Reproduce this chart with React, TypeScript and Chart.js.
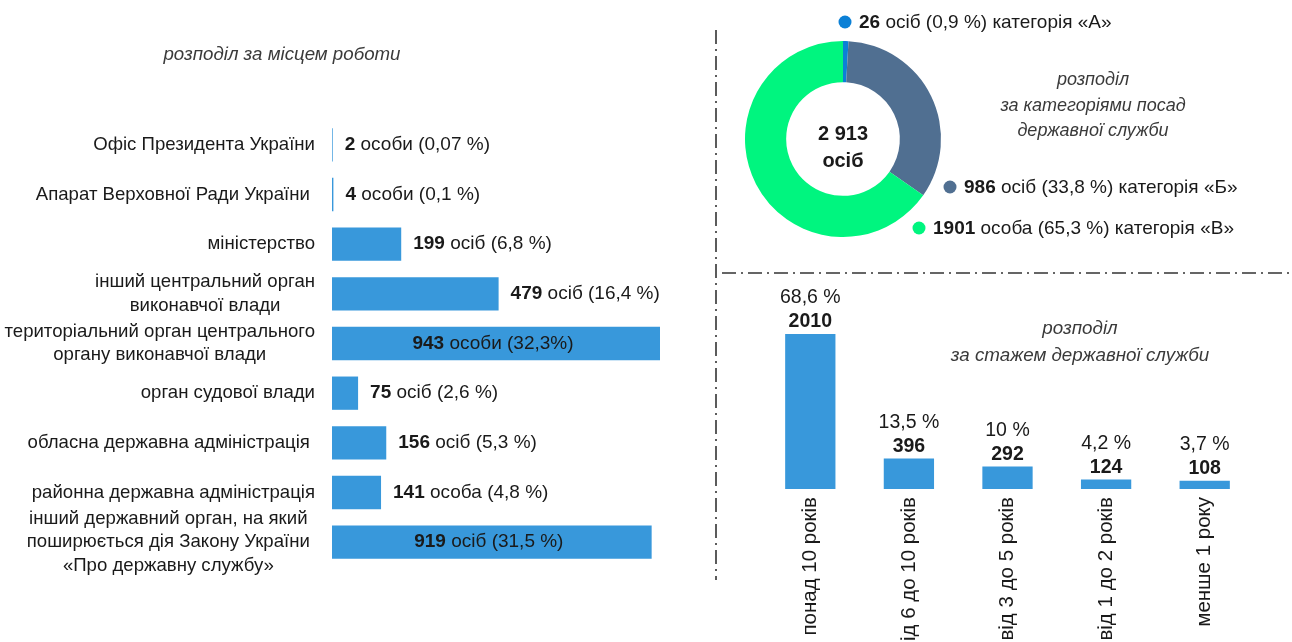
import React, { useEffect, useRef } from "react";
import { Chart, registerables } from "chart.js";

Chart.register(...registerables);

const FONT = "'Liberation Sans', Arial, sans-serif";
const TEXT = "#1a1a1a";
const BAR_BLUE = "#3898db";

// ---- left: distribution by place of work ----
const workplaceLabels: (string | string[])[] = [
  "Офіс Президента України",
  "Апарат Верховної Ради України ",
  "міністерство",
  ["інший центральний орган", "виконавчої влади"],
  ["територіальний орган центрального", "органу виконавчої влади"],
  "орган судової влади",
  "обласна державна адміністрація ",
  "районна державна адміністрація",
  ["інший державний орган, на який ", "поширюється дія Закону України ", "«Про державну службу» "],
];
const workplaceCounts = [2, 4, 199, 479, 943, 75, 156, 141, 919];
const workplaceUnits = ["особи", "особи", "осіб", "осіб", "особи", "осіб", "осіб", "особа", "осіб"];
const workplacePcts = ["0,07 %", "0,1 %", "6,8 %", "16,4 %", "32,3%", "2,6 %", "5,3 %", "4,8 %", "31,5 %"];

// ---- top right: distribution by position category ----
const categoryLabels = ["категорія «А»", "категорія «Б»", "категорія «В»"];
const categoryCounts = [26, 986, 1901];
const categoryUnits = ["осіб", "осіб", "особа"];
const categoryPcts = ["0,9 %", "33,8 %", "65,3 %"];
const categoryColors = ["#0b80d6", "#506f91", "#00f57f"];
const totalLabel = ["2 913", "осіб"];

// ---- bottom right: distribution by length of service ----
const tenureLabels = ["понад 10 років", "від 6 до 10 років", "від 3 до 5 років", "від 1 до 2 років", "менше 1 року"];
const tenureCounts = [2010, 396, 292, 124, 108];
const tenurePcts = ["68,6 %", "13,5 %", "10 %", "4,2 %", "3,7 %"];

function drawBoldThenNormal(ctx: CanvasRenderingContext2D, bold: string, rest: string, x: number, y: number, size: number, align: "left" | "center") {
  ctx.font = `bold ${size}px ${FONT}`;
  const bw = ctx.measureText(bold).width;
  ctx.font = `${size}px ${FONT}`;
  const rw = ctx.measureText(rest).width;
  const x0 = align === "center" ? x - (bw + rw) / 2 : x;
  ctx.textAlign = "left";
  ctx.textBaseline = "middle";
  ctx.font = `bold ${size}px ${FONT}`;
  ctx.fillText(bold, x0, y);
  ctx.font = `${size}px ${FONT}`;
  ctx.fillText(rest, x0 + bw, y);
}

function WorkplaceChart() {
  const ref = useRef<HTMLCanvasElement>(null);
  useEffect(() => {
    const maxVal = Math.max(...workplaceCounts);
    const plugin = {
      id: "workplaceLabels",
      afterDraw(chart: any) {
        const ctx: CanvasRenderingContext2D = chart.ctx;
        const yScale = chart.scales.y;
        const meta = chart.getDatasetMeta(0);
        ctx.save();
        ctx.fillStyle = TEXT;
        ctx.textBaseline = "middle";
        const right = chart.chartArea.left - 17;
        const lh = 23.5;
        workplaceLabels.forEach((lab, i) => {
          const lines = Array.isArray(lab) ? lab : [lab];
          ctx.font = `18.6px ${FONT}`;
          const maxW = Math.max(...lines.map((l) => ctx.measureText(l).width));
          const cx = right - maxW / 2;
          const y = yScale.getPixelForTick(i);
          ctx.textAlign = "center";
          lines.forEach((l, j) => ctx.fillText(l, cx, y + (j - (lines.length - 1) / 2) * lh));
        });
        meta.data.forEach((bar: any, i: number) => {
          const bold = String(workplaceCounts[i]);
          const rest = ` ${workplaceUnits[i]} (${workplacePcts[i]})`;
          if (workplaceCounts[i] > maxVal * 0.6) {
            drawBoldThenNormal(ctx, bold, rest, (bar.base + bar.x) / 2 - 3, bar.y, 19, "center");
          } else {
            drawBoldThenNormal(ctx, bold, rest, bar.x + 12, bar.y, 19, "left");
          }
        });
        ctx.restore();
      },
    };
    const chart = new Chart(ref.current!, {
      type: "bar",
      data: {
        labels: workplaceLabels.map((l) => (Array.isArray(l) ? l.join(" ") : l)),
        datasets: [
          {
            data: workplaceCounts,
            backgroundColor: BAR_BLUE,
            borderWidth: 0,
            categoryPercentage: 1,
            barPercentage: 0.67,
          },
        ],
      },
      options: {
        indexAxis: "y",
        responsive: false,
        animation: false,
        layout: { padding: { left: 0, right: 55, top: 120, bottom: 75 } },
        plugins: { legend: { display: false }, tooltip: { enabled: false } },
        scales: {
          x: { display: false, min: 0, max: maxVal },
          y: {
            ticks: { display: false },
            grid: { display: false, drawTicks: false },
            border: { display: false },
            afterFit: (s: any) => {
              s.width = 332;
            },
          },
        },
      },
      plugins: [plugin],
    } as any);
    return () => chart.destroy();
  }, []);
  return <canvas ref={ref} width={715} height={642} style={{ position: "absolute", left: 0, top: 0 }} />;
}

function CategoryChart() {
  const ref = useRef<HTMLCanvasElement>(null);
  useEffect(() => {
    const offsets = [
      [2, -117],
      [107, 48],
      [76, 89],
    ];
    const plugin = {
      id: "categoryLabels",
      afterDraw(chart: any) {
        const ctx: CanvasRenderingContext2D = chart.ctx;
        const arc = chart.getDatasetMeta(0).data[0];
        const cx = arc.x;
        const cy = arc.y;
        ctx.save();
        ctx.fillStyle = TEXT;
        ctx.textAlign = "center";
        ctx.textBaseline = "middle";
        ctx.font = `bold 20px ${FONT}`;
        ctx.fillText(totalLabel[0], cx, cy - 5);
        ctx.fillText(totalLabel[1], cx, cy + 22);
        categoryCounts.forEach((c, i) => {
          const [dx, dy] = offsets[i];
          const x = cx + dx;
          const y = cy + dy;
          ctx.beginPath();
          ctx.fillStyle = categoryColors[i];
          ctx.arc(x, y, 6.5, 0, Math.PI * 2);
          ctx.fill();
          ctx.fillStyle = TEXT;
          drawBoldThenNormal(ctx, String(c), ` ${categoryUnits[i]} (${categoryPcts[i]}) ${categoryLabels[i]}`, x + 14, y + 1, 19, "left");
        });
        ctx.restore();
      },
    };
    const chart = new Chart(ref.current!, {
      type: "doughnut",
      data: {
        labels: categoryLabels,
        datasets: [{ data: categoryCounts, backgroundColor: categoryColors, borderWidth: 0 }],
      },
      options: {
        responsive: false,
        animation: false,
        cutout: "58%",
        layout: { padding: { left: 29, top: 41, right: 351, bottom: 35 } },
        plugins: { legend: { display: false }, tooltip: { enabled: false } },
      },
      plugins: [plugin],
    } as any);
    return () => chart.destroy();
  }, []);
  return <canvas ref={ref} width={576} height={272} style={{ position: "absolute", left: 716, top: 0 }} />;
}

function TenureChart() {
  const ref = useRef<HTMLCanvasElement>(null);
  useEffect(() => {
    const plugin = {
      id: "tenureLabels",
      afterDraw(chart: any) {
        const ctx: CanvasRenderingContext2D = chart.ctx;
        const meta = chart.getDatasetMeta(0);
        ctx.save();
        ctx.fillStyle = TEXT;
        ctx.textAlign = "center";
        ctx.textBaseline = "middle";
        meta.data.forEach((bar: any, i: number) => {
          ctx.font = `19.5px ${FONT}`;
          ctx.fillText(tenurePcts[i], bar.x, bar.y - 36);
          ctx.font = `bold 19.5px ${FONT}`;
          ctx.fillText(String(tenureCounts[i]), bar.x, bar.y - 12);
        });
        ctx.restore();
      },
    };
    const chart = new Chart(ref.current!, {
      type: "bar",
      data: {
        labels: tenureLabels,
        datasets: [
          {
            data: tenureCounts,
            backgroundColor: BAR_BLUE,
            borderWidth: 0,
            categoryPercentage: 1,
            barPercentage: 0.51,
          },
        ],
      },
      options: {
        responsive: false,
        animation: false,
        layout: { padding: { left: 45, right: 38, top: 59, bottom: 0 } },
        plugins: { legend: { display: false }, tooltip: { enabled: false } },
        scales: {
          y: { display: false, min: 0, max: Math.max(...tenureCounts) },
          x: {
            grid: { display: false, drawTicks: false },
            border: { display: false },
            ticks: {
              minRotation: 90,
              maxRotation: 90,
              autoSkip: false,
              padding: 8,
              color: TEXT,
              font: { family: FONT, size: 20.5 },
            },
            afterFit: (s: any) => {
              s.height = 153;
            },
          },
        },
      },
      plugins: [plugin],
    } as any);
    return () => chart.destroy();
  }, []);
  return <canvas ref={ref} width={576} height={367} style={{ position: "absolute", left: 716, top: 275 }} />;
}

const titleStyle: React.CSSProperties = {
  position: "absolute",
  width: 320,
  textAlign: "center",
  fontFamily: FONT,
  fontStyle: "italic",
  fontSize: 18,
  color: "#3a3a3a",
  whiteSpace: "nowrap",
};

export default function App() {
  return (
    <div
      style={{
        position: "fixed",
        left: 0,
        top: 0,
        width: 1292,
        height: 642,
        background: "#fff",
        overflow: "hidden",
      }}
    >
      <WorkplaceChart />
      <CategoryChart />
      <TenureChart />
      <div style={{ ...titleStyle, left: 122, top: 43, fontSize: 18.7, lineHeight: "22px" }}>розподіл за місцем роботи</div>
      <div style={{ ...titleStyle, left: 933, top: 67, lineHeight: "25.5px" }}>
        розподіл
        <br />
        за категоріями посад
        <br />
        державної служби
      </div>
      <div style={{ ...titleStyle, left: 920, top: 314, fontSize: 18.8, lineHeight: "27px" }}>
        розподіл
        <br />
        за стажем державної служби
      </div>
      <svg width={1292} height={642} style={{ position: "absolute", left: 0, top: 0, pointerEvents: "none" }}>
        <line x1={716} y1={30} x2={716} y2={580} stroke="#333" strokeWidth={1.6} strokeDasharray="14 5 2 5" />
        <line x1={722} y1={273} x2={1292} y2={273} stroke="#333" strokeWidth={1.6} strokeDasharray="14 5 2 5" />
      </svg>
    </div>
  );
}
